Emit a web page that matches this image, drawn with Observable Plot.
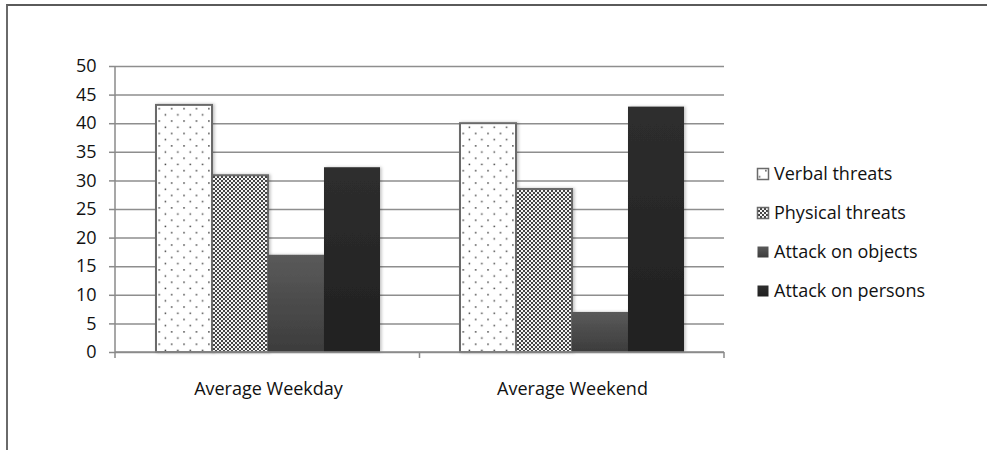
<!DOCTYPE html>
<html>
<head>
<meta charset="utf-8">
<script src="https://cdn.jsdelivr.net/npm/d3@7"></script>
<script src="https://cdn.jsdelivr.net/npm/@observablehq/plot@0.6"></script>
<style>
  html, body { margin: 0; padding: 0; background: #fff; }
  #wrap { position: relative; width: 987px; height: 450px; overflow: hidden; }
  #frame { position: absolute; left: 6px; top: 4px; right: -4px; bottom: -4px;
           border-top: 2px solid #5a5a5a; border-left: 2px solid #6a6a6a; pointer-events: none; }
  #chart { position: absolute; left: 0; top: 0; }
</style>
</head>
<body>
<div id="wrap"><div id="chart"></div><div id="frame"></div></div>
<script>
const categories = ["Average Weekday", "Average Weekend"];
const series = ["Verbal threats", "Physical threats", "Attack on objects", "Attack on persons"];
const weekdayValues = [43.2, 30.9, 17.0, 32.3];
const weekendValues = [40.0, 28.5, 7.0, 42.9];
const yTicks = [0, 5, 10, 15, 20, 25, 30, 35, 40, 45, 50];

const seriesFill = {
  "Verbal threats": "url(#dots)",
  "Physical threats": "url(#checks)",
  "Attack on objects": "url(#gradObjects)",
  "Attack on persons": "url(#gradPersons)"
};
const seriesStroke = {
  "Verbal threats": "#6a6a6a",
  "Physical threats": "#6a6a6a",
  "Attack on objects": "none",
  "Attack on persons": "none"
};

const rows = [];
[weekdayValues, weekendValues].forEach((vals, ci) => {
  vals.forEach((v, si) => rows.push({category: categories[ci], series: series[si], value: v}));
});

const font = "'Open Sans', 'DejaVu Sans', sans-serif";

const plot = Plot.plot({
  width: 987,
  height: 450,
  marginLeft: 115,
  marginRight: 263,
  marginTop: 66,
  marginBottom: 98,
  style: {fontFamily: font, fontSize: "18px", color: "#111", background: "transparent"},
  fx: {domain: categories, padding: 0, label: null, tickSize: 0, tickPadding: 30},
  x: {domain: series, paddingInner: 0, paddingOuter: 0.7, axis: null},
  y: {domain: [0, 50], ticks: yTicks, label: null, tickSize: 7, tickPadding: 13, tickFormat: d => d},
  marks: [
    Plot.ruleY(yTicks, {stroke: "#8e8e8e", strokeWidth: 1.5}),
    Plot.barY(rows, {
      fx: "category",
      x: "series",
      y: "value",
      fill: d => seriesFill[d.series],
      stroke: d => seriesStroke[d.series],
      strokeWidth: 2,
      insetLeft: 0,
      insetRight: 0
    })
  ]
});

// pattern and gradient definitions used by the bar fills
const svg = d3.select(plot);
const defs = svg.insert("defs", ":first-child");

const dots = defs.append("pattern").attr("id", "dots")
  .attr("patternUnits", "userSpaceOnUse").attr("width", 12.4).attr("height", 12.4);
dots.append("rect").attr("width", 12.4).attr("height", 12.4).attr("fill", "#fff");
dots.append("rect").attr("x", 2.5).attr("y", 2.5).attr("width", 1.5).attr("height", 1.5).attr("fill", "#444");
dots.append("rect").attr("x", 8.7).attr("y", 8.7).attr("width", 1.5).attr("height", 1.5).attr("fill", "#444");

const checks = defs.append("pattern").attr("id", "checks")
  .attr("patternUnits", "userSpaceOnUse").attr("width", 4).attr("height", 4);
checks.append("rect").attr("width", 4).attr("height", 4).attr("fill", "#f4f4f4");
checks.append("rect").attr("width", 2).attr("height", 2).attr("fill", "#444");
checks.append("rect").attr("x", 2).attr("y", 2).attr("width", 2).attr("height", 2).attr("fill", "#444");

const g1 = defs.append("linearGradient").attr("id", "gradObjects")
  .attr("x1", 0).attr("y1", 0).attr("x2", 0).attr("y2", 1);
g1.append("stop").attr("offset", 0).attr("stop-color", "#5a5a5a");
g1.append("stop").attr("offset", 1).attr("stop-color", "#3c3c3c");

const g2 = defs.append("linearGradient").attr("id", "gradPersons")
  .attr("x1", 0).attr("y1", 0).attr("x2", 0).attr("y2", 1);
g2.append("stop").attr("offset", 0).attr("stop-color", "#2e2e2e");
g2.append("stop").attr("offset", 1).attr("stop-color", "#202020");

const shadow = defs.append("filter").attr("id", "shadow")
  .attr("x", "-20%").attr("y", "-10%").attr("width", "150%").attr("height", "130%");
shadow.append("feDropShadow").attr("dx", 1.5).attr("dy", 0).attr("stdDeviation", 1.5)
  .attr("flood-color", "#000").attr("flood-opacity", 0.25);

svg.selectAll("g[aria-label='bar'] rect").attr("filter", "url(#shadow)");

// axis lines and category boundary ticks drawn from the scales
const ys = plot.scale("y");
const fxs = plot.scale("fx");
const yMap = v => ys.range[0] + (v - ys.domain[0]) / (ys.domain[1] - ys.domain[0]) * (ys.range[1] - ys.range[0]);
const x0 = fxs.range[0], x1 = fxs.range[1];
const step = (x1 - x0) / fxs.domain.length;
const axisG = svg.append("g").attr("stroke", "#8a8a8a").attr("stroke-width", 1.5);
axisG.append("line").attr("x1", x0).attr("x2", x0).attr("y1", yMap(50)).attr("y2", yMap(0) + 6);
axisG.append("line").attr("x1", x0).attr("x2", x1).attr("y1", yMap(0)).attr("y2", yMap(0));
for (let i = 1; i <= fxs.domain.length; i++) {
  const x = x0 + i * step;
  axisG.append("line").attr("x1", x).attr("x2", x).attr("y1", yMap(0)).attr("y2", yMap(0) + 6);
}
svg.selectAll("g[aria-label='y-axis tick'] path, g[aria-label='y-axis'] path").attr("stroke", "#8a8a8a").attr("stroke-width", 1.5);

// legend to the right of the plot area
const legend = svg.append("g").attr("font-family", font).attr("font-size", 18)
  .attr("fill", "#111").attr("text-anchor", "start");
series.forEach((s, i) => {
  const cy = 174 + i * 39;
  legend.append("rect").attr("x", 757.5).attr("y", cy - 5.5).attr("width", 11).attr("height", 11)
    .attr("fill", seriesFill[s]).attr("stroke", seriesStroke[s] === "none" ? "none" : "#6a6a6a").attr("stroke-width", 1.5);
  legend.append("text").attr("x", 774).attr("y", cy).attr("dy", "0.35em").text(s);
});

document.getElementById("chart").appendChild(plot);
</script>
</body>
</html>
